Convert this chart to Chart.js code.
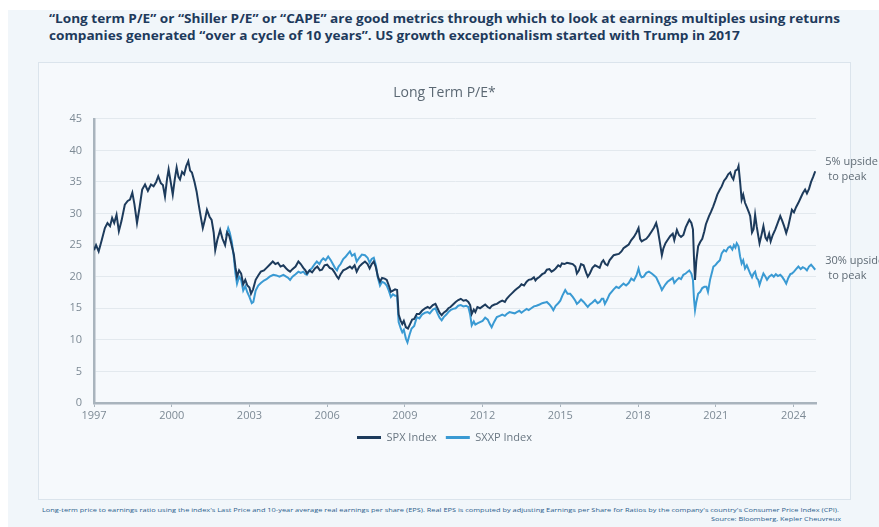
<!DOCTYPE html>
<html>
<head>
<meta charset="utf-8">
<script src="https://cdn.jsdelivr.net/npm/chart.js@4.4.1/dist/chart.umd.min.js"></script>
<style>
  html, body { margin:0; padding:0; background:#ffffff; width:879px; height:527px; overflow:hidden; }
  #outer { position:absolute; left:8px; top:10px; right:0; bottom:0; background:#f1f6fa; }
  .hl { position:absolute; left:49px; font-family:"Open Sans", sans-serif; font-weight:700; font-size:13px; color:#1e3a5c; white-space:nowrap; transform-origin:0 50%; line-height:17px; }
  #box { position:absolute; left:38px; top:62px; width:811px; height:436px; background:#f6f9fc; border:1px solid #dbe4ec; }
  #wrap { position:absolute; left:38px; top:62px; width:841px; height:438px; }
  .fn { position:absolute; font-family:"Open Sans", sans-serif; font-size:6px; color:#2a5d8c; white-space:nowrap; line-height:8px; transform-origin:0 50%; }
</style>
</head>
<body>
<div id="outer"></div>
<div class="hl" id="h1" style="top:10px;">“Long term P/E” or “Shiller P/E” or “CAPE” are good metrics through which to look at earnings multiples using returns</div>
<div class="hl" id="h2" style="top:27px;">companies generated “over a cycle of 10 years”. US growth exceptionalism started with Trump in 2017</div>
<div id="box"></div>
<div id="wrap"><canvas id="c" width="841" height="438"></canvas></div>
<div class="fn" id="f1" style="left:42px; top:506px;">Long-term price to earnings ratio using the index's Last Price and 10-year average real earnings per share (EPS). Real EPS is computed by adjusting Earnings per Share for Ratios by the company's country's Consumer Price Index (CPI).</div>
<div class="fn" id="f2" style="left:711px; top:515px;">Source: Bloomberg, Kepler Cheuvreux</div>
<script>
// ---- data ----
const tickYears = [1997, 2000, 2003, 2006, 2009, 2012, 2015, 2018, 2021, 2024];
const yTicks = [0, 5, 10, 15, 20, 25, 30, 35, 40, 45];

const spxYears = [1997.00,1997.08,1997.18,1997.30,1997.42,1997.52,1997.62,1997.70,1997.78,1997.87,1997.96,1998.06,1998.19,1998.30,1998.39,1998.48,1998.56,1998.66,1998.76,1998.86,1998.97,1999.08,1999.20,1999.30,1999.40,1999.48,1999.58,1999.66,1999.74,1999.82,1999.88,1999.96,2000.04,2000.12,2000.19,2000.26,2000.32,2000.40,2000.48,2000.56,2000.64,2000.71,2000.78,2000.88,2000.96,2001.03,2001.12,2001.20,2001.28,2001.36,2001.46,2001.54,2001.62,2001.68,2001.76,2001.87,2001.96,2002.06,2002.14,2002.22,2002.30,2002.40,2002.46,2002.52,2002.60,2002.68,2002.76,2002.84,2002.92,2003.00,2003.06,2003.14,2003.24,2003.34,2003.44,2003.56,2003.66,2003.78,2003.90,2004.00,2004.10,2004.20,2004.31,2004.42,2004.50,2004.57,2004.66,2004.78,2004.89,2004.98,2005.08,2005.16,2005.22,2005.32,2005.42,2005.53,2005.62,2005.72,2005.80,2005.90,2006.00,2006.10,2006.20,2006.30,2006.38,2006.44,2006.52,2006.62,2006.72,2006.80,2006.88,2006.96,2007.06,2007.14,2007.24,2007.34,2007.46,2007.56,2007.64,2007.72,2007.80,2007.88,2007.96,2008.04,2008.12,2008.22,2008.30,2008.38,2008.46,2008.54,2008.62,2008.70,2008.76,2008.84,2008.90,2008.96,2009.04,2009.12,2009.20,2009.28,2009.36,2009.46,2009.56,2009.66,2009.78,2009.88,2009.96,2010.08,2010.18,2010.26,2010.34,2010.42,2010.50,2010.60,2010.68,2010.76,2010.86,2010.96,2011.06,2011.16,2011.26,2011.36,2011.45,2011.52,2011.58,2011.66,2011.72,2011.80,2011.90,2012.00,2012.10,2012.20,2012.28,2012.36,2012.46,2012.55,2012.66,2012.76,2012.86,2012.93,2013.04,2013.14,2013.24,2013.32,2013.42,2013.50,2013.60,2013.70,2013.78,2013.88,2013.98,2014.04,2014.10,2014.20,2014.30,2014.40,2014.48,2014.58,2014.66,2014.74,2014.82,2014.92,2015.00,2015.06,2015.16,2015.26,2015.38,2015.48,2015.58,2015.64,2015.72,2015.80,2015.90,2016.00,2016.06,2016.14,2016.24,2016.34,2016.44,2016.52,2016.60,2016.66,2016.74,2016.82,2016.90,2016.98,2017.06,2017.16,2017.26,2017.36,2017.44,2017.54,2017.64,2017.74,2017.84,2017.94,2018.02,2018.08,2018.14,2018.22,2018.32,2018.42,2018.53,2018.62,2018.70,2018.76,2018.84,2018.92,2018.98,2019.06,2019.14,2019.24,2019.34,2019.40,2019.50,2019.58,2019.66,2019.75,2019.84,2019.92,2019.98,2020.06,2020.12,2020.16,2020.20,2020.25,2020.32,2020.40,2020.48,2020.56,2020.62,2020.74,2020.82,2020.90,2020.98,2021.06,2021.16,2021.23,2021.32,2021.40,2021.48,2021.56,2021.62,2021.68,2021.76,2021.84,2021.88,2021.94,2022.00,2022.06,2022.13,2022.20,2022.28,2022.33,2022.40,2022.46,2022.52,2022.58,2022.64,2022.69,2022.76,2022.84,2022.92,2022.98,2023.06,2023.12,2023.20,2023.30,2023.40,2023.49,2023.56,2023.64,2023.72,2023.80,2023.88,2023.94,2024.02,2024.10,2024.19,2024.28,2024.36,2024.45,2024.52,2024.60,2024.68,2024.76,2024.84];
const spxValues = [24.2,25.0,24.0,25.8,27.7,28.5,28.0,29.3,28.5,29.8,27.2,28.8,31.4,32.0,32.2,33.3,31.5,28.5,31.0,33.8,34.6,33.6,34.6,34.3,35.0,35.9,34.8,34.5,32.7,35.5,37.0,35.0,33.0,35.5,37.3,35.8,35.4,36.6,36.2,37.5,38.3,36.8,36.5,35.0,33.5,31.7,29.5,27.7,29.0,30.6,29.5,29.0,27.0,24.2,25.8,27.4,26.0,25.0,27.0,26.5,25.2,23.5,21.5,20.0,21.0,20.5,18.8,19.5,18.6,18.3,17.3,18.0,19.5,20.2,20.8,21.0,21.4,21.9,22.4,22.0,22.2,21.6,21.8,21.3,21.0,20.8,21.2,21.6,22.4,22.0,21.4,21.0,20.5,21.0,20.7,21.3,21.6,21.0,21.1,21.8,21.9,21.4,21.2,20.6,20.0,19.7,20.4,21.0,21.2,21.4,21.6,21.3,21.8,20.8,21.6,22.0,22.4,22.0,21.3,22.0,22.4,21.5,20.0,19.2,19.8,19.7,19.5,18.6,17.6,17.8,18.0,17.9,14.0,13.0,12.5,13.0,12.0,11.8,12.5,13.2,13.3,14.1,14.1,14.6,15.0,15.2,15.0,15.5,15.7,15.0,14.3,13.9,14.3,14.6,15.0,15.2,15.6,16.0,16.3,16.5,16.2,16.3,16.0,15.5,14.1,14.8,14.4,15.2,15.0,15.3,15.6,15.2,15.0,15.4,15.6,15.7,16.0,16.2,16.0,16.5,17.0,17.4,17.8,18.1,18.4,18.8,18.6,19.2,19.5,19.6,19.9,19.4,19.7,20.0,20.4,20.6,21.1,21.2,20.8,21.0,21.3,21.8,21.6,22.1,22.0,22.2,22.1,22.0,21.6,20.5,21.0,22.0,21.8,20.6,20.0,20.5,21.4,21.8,21.6,21.4,22.3,22.6,22.0,21.8,22.6,23.0,23.4,23.5,23.6,24.0,24.5,24.8,25.1,25.8,26.3,27.0,27.7,26.0,25.6,25.8,26.0,26.5,27.2,27.8,28.5,27.5,25.5,23.4,24.5,25.3,25.8,26.4,26.8,25.8,27.4,26.6,26.3,26.6,27.8,28.5,29.0,28.5,27.5,23.0,19.5,22.5,24.8,25.5,26.0,27.2,28.3,29.6,30.3,31.1,32.0,33.0,33.8,34.3,35.2,35.6,36.2,36.5,35.8,35.4,36.8,37.0,37.5,35.0,32.2,33.0,31.7,31.0,30.2,29.6,27.0,27.5,29.8,28.0,26.5,25.3,26.5,28.0,26.2,25.8,26.8,25.6,26.6,27.5,28.6,29.6,28.9,28.0,26.9,28.0,29.5,30.6,30.2,31.0,31.7,32.5,33.2,33.8,33.2,33.9,35.0,35.8,36.7];

const sxxpYears = [2002.10,2002.18,2002.24,2002.32,2002.40,2002.46,2002.52,2002.60,2002.68,2002.76,2002.84,2002.92,2003.00,2003.09,2003.15,2003.24,2003.34,2003.44,2003.56,2003.66,2003.78,2003.92,2004.04,2004.16,2004.31,2004.42,2004.50,2004.57,2004.66,2004.78,2004.89,2004.98,2005.08,2005.16,2005.22,2005.32,2005.42,2005.52,2005.60,2005.70,2005.78,2005.85,2005.94,2006.04,2006.14,2006.22,2006.30,2006.38,2006.44,2006.52,2006.62,2006.72,2006.80,2006.88,2006.96,2007.06,2007.14,2007.24,2007.34,2007.46,2007.56,2007.64,2007.72,2007.80,2007.88,2007.96,2008.04,2008.12,2008.22,2008.30,2008.38,2008.46,2008.54,2008.62,2008.70,2008.76,2008.84,2008.90,2008.96,2009.04,2009.10,2009.18,2009.26,2009.36,2009.46,2009.56,2009.66,2009.78,2009.88,2009.96,2010.08,2010.18,2010.26,2010.34,2010.42,2010.50,2010.60,2010.68,2010.76,2010.86,2010.96,2011.06,2011.16,2011.26,2011.36,2011.45,2011.52,2011.58,2011.66,2011.72,2011.80,2011.90,2012.00,2012.10,2012.20,2012.28,2012.35,2012.44,2012.55,2012.66,2012.76,2012.86,2012.93,2013.04,2013.14,2013.24,2013.32,2013.42,2013.50,2013.60,2013.70,2013.78,2013.88,2013.98,2014.08,2014.20,2014.30,2014.40,2014.48,2014.58,2014.66,2014.73,2014.82,2014.92,2015.00,2015.08,2015.19,2015.28,2015.38,2015.48,2015.58,2015.64,2015.72,2015.80,2015.90,2016.00,2016.06,2016.14,2016.24,2016.34,2016.44,2016.52,2016.60,2016.66,2016.72,2016.80,2016.90,2016.98,2017.06,2017.16,2017.26,2017.36,2017.44,2017.54,2017.64,2017.74,2017.84,2017.94,2018.02,2018.08,2018.14,2018.22,2018.32,2018.42,2018.53,2018.62,2018.70,2018.78,2018.86,2018.92,2018.98,2019.06,2019.14,2019.24,2019.34,2019.40,2019.50,2019.58,2019.66,2019.75,2019.84,2019.92,2019.98,2020.06,2020.12,2020.16,2020.20,2020.25,2020.32,2020.40,2020.48,2020.56,2020.64,2020.70,2020.78,2020.86,2020.91,2020.98,2021.06,2021.16,2021.23,2021.32,2021.40,2021.48,2021.56,2021.64,2021.70,2021.76,2021.81,2021.88,2021.94,2022.00,2022.06,2022.13,2022.20,2022.28,2022.33,2022.40,2022.46,2022.52,2022.58,2022.64,2022.69,2022.76,2022.84,2022.92,2022.98,2023.06,2023.16,2023.24,2023.32,2023.40,2023.49,2023.56,2023.64,2023.72,2023.80,2023.88,2023.94,2024.02,2024.10,2024.19,2024.28,2024.36,2024.45,2024.52,2024.60,2024.68,2024.76,2024.84];
const sxxpValues = [26.5,27.7,27.0,25.5,23.0,20.5,18.9,20.0,19.5,17.8,18.5,17.5,16.8,15.8,16.0,17.8,18.6,19.0,19.4,19.6,20.0,20.3,20.2,20.0,20.3,20.0,19.8,19.5,20.0,20.4,20.8,20.6,20.8,20.4,20.3,21.0,21.4,22.0,22.4,22.0,22.6,22.9,22.6,23.2,22.6,22.0,21.4,21.0,21.6,22.0,22.8,23.2,23.6,24.0,23.3,23.6,22.4,23.0,23.5,23.4,23.0,22.2,22.8,23.0,21.8,19.8,18.6,19.2,19.0,18.6,17.8,16.8,17.2,17.0,17.0,12.8,11.8,11.2,11.6,10.2,9.6,10.8,11.8,12.2,13.6,13.4,14.0,14.3,14.4,14.2,14.8,15.0,14.2,13.5,13.1,13.6,14.0,14.4,14.7,14.9,15.0,15.4,15.5,15.3,15.4,15.2,14.0,12.3,12.9,12.4,12.6,12.8,13.0,13.5,13.2,12.5,12.0,12.8,13.6,13.8,14.0,13.8,14.1,14.4,14.3,14.2,14.4,14.6,14.3,14.6,14.9,14.7,15.0,15.3,15.4,15.6,15.8,15.9,16.0,15.6,15.2,14.7,15.4,15.8,16.2,17.0,17.9,17.3,17.3,16.8,16.2,15.7,16.0,16.4,16.0,15.5,15.2,15.6,15.9,16.3,15.8,16.0,16.5,16.5,15.7,16.3,17.2,17.6,18.0,18.4,18.2,18.6,18.9,18.6,19.0,19.7,19.4,20.2,21.3,20.3,19.9,20.0,20.6,20.8,20.5,20.2,19.9,19.2,18.5,17.9,18.3,18.8,19.2,19.5,19.8,19.0,19.5,19.8,19.6,20.3,20.5,20.8,21.0,20.5,19.5,16.5,14.7,16.0,17.3,17.6,18.2,18.4,18.4,17.6,19.5,20.8,21.6,21.8,22.2,22.6,23.7,24.2,24.0,24.6,24.8,24.3,25.0,24.6,25.3,24.8,23.2,22.1,22.6,21.3,21.8,21.0,20.5,19.9,20.5,20.8,19.8,19.5,18.7,19.6,20.5,20.0,19.5,20.0,20.3,20.0,20.4,20.1,20.3,20.0,19.5,18.9,19.8,20.4,20.5,20.8,21.2,21.6,21.2,21.5,21.3,21.0,21.6,21.9,21.5,21.1];

const seriesNames = ["SPX Index", "SXXP Index"];
const endNotes = [["5% upside", "to peak"], ["30% upside", "to peak"]];

// ---- fit headline / footnote widths ----
function fitWidth(ids, target) {
  const w = document.getElementById(ids[0]).getBoundingClientRect().width;
  const s = target / w;
  ids.forEach(id => { document.getElementById(id).style.transform = 'scaleX(' + s + ')'; });
}
fitWidth(['h1', 'h2'], 791);
fitWidth(['f1'], 797);
fitWidth(['f2'], 130);

const NAVY = '#1d3b5c';
const LIGHT = '#3a9ad3';
const AXIS = '#a9b4bd';
const TICKC = '#7d8a95';
const FONT = '"Open Sans", sans-serif';

const toPts = (xs, ys) => xs.map((x, i) => ({ x: x, y: ys[i] }));

const endNotesPlugin = {
  id: 'endNotes',
  afterDatasetsDraw(chart) {
    const ctx = chart.ctx;
    ctx.save();
    ctx.font = '11px ' + FONT;
    ctx.fillStyle = '#5f6b75';
    ctx.textBaseline = 'middle';
    ctx.textAlign = 'left';
    chart.data.datasets.forEach((ds, i) => {
      const meta = chart.getDatasetMeta(i);
      const last = meta.data[meta.data.length - 1];
      const x = last.x + 10;
      ctx.fillText(endNotes[i][0], x, last.y - 9);
      ctx.fillText(endNotes[i][1], x + 3, last.y + 6);
    });
    ctx.restore();
  }
};

new Chart(document.getElementById('c'), {
  type: 'line',
  data: {
    datasets: [
      { label: seriesNames[0], data: toPts(spxYears, spxValues), borderColor: NAVY, backgroundColor: NAVY, borderWidth: 2, pointRadius: 0, tension: 0 },
      { label: seriesNames[1], data: toPts(sxxpYears, sxxpValues), borderColor: LIGHT, backgroundColor: LIGHT, borderWidth: 2, pointRadius: 0, tension: 0 }
    ]
  },
  options: {
    responsive: false,
    animation: false,
    events: [],
    layout: { padding: { top: 20, left: 0, right: 28, bottom: 47 } },
    plugins: {
      tooltip: { enabled: false },
      title: {
        display: true, text: 'Long Term P/E*', color: '#5b6873',
        font: { family: FONT, size: 14, weight: 'normal' }, padding: { top: 3, bottom: 17 }
      },
      legend: {
        position: 'bottom',
        labels: {
          color: '#6a7782', font: { family: FONT, size: 11 }, boxWidth: 24, boxHeight: 3, padding: 9,
          generateLabels(chart) {
            return chart.data.datasets.map((ds, i) => ({ text: ds.label, fillStyle: ds.borderColor, strokeStyle: ds.borderColor, lineWidth: 0, datasetIndex: i, fontColor: '#6a7782' }));
          }
        }
      }
    },
    scales: {
      x: {
        type: 'linear', min: 1997, max: 2024.87,
        afterBuildTicks(scale) { scale.ticks = tickYears.map(v => ({ value: v })); },
        ticks: { color: TICKC, font: { family: FONT, size: 11 }, padding: 2, maxRotation: 0, callback: v => String(v) },
        grid: { drawOnChartArea: false, drawTicks: true, tickLength: 4, color: AXIS, lineWidth: 1 },
        border: { display: true, color: AXIS, width: 2.5 },
        afterFit(scale) { scale.height = 20; }
      },
      y: {
        min: 0, max: 45,
        afterBuildTicks(scale) { scale.ticks = yTicks.map(v => ({ value: v })); },
        ticks: { color: TICKC, font: { family: FONT, size: 11 }, padding: 12 },
        grid: { color: '#e3e9ee', lineWidth: 1, drawTicks: false },
        border: { display: true, color: AXIS, width: 2.5 },
        afterFit(scale) { scale.width = 56; }
      },
      y2: {
        position: 'right', min: 0, max: 45,
        ticks: { display: false }, grid: { display: false }, border: { display: false },
        afterFit(scale) { scale.width = 35; }
      }
    }
  },
  plugins: [endNotesPlugin]
});
</script>
</body>
</html>
